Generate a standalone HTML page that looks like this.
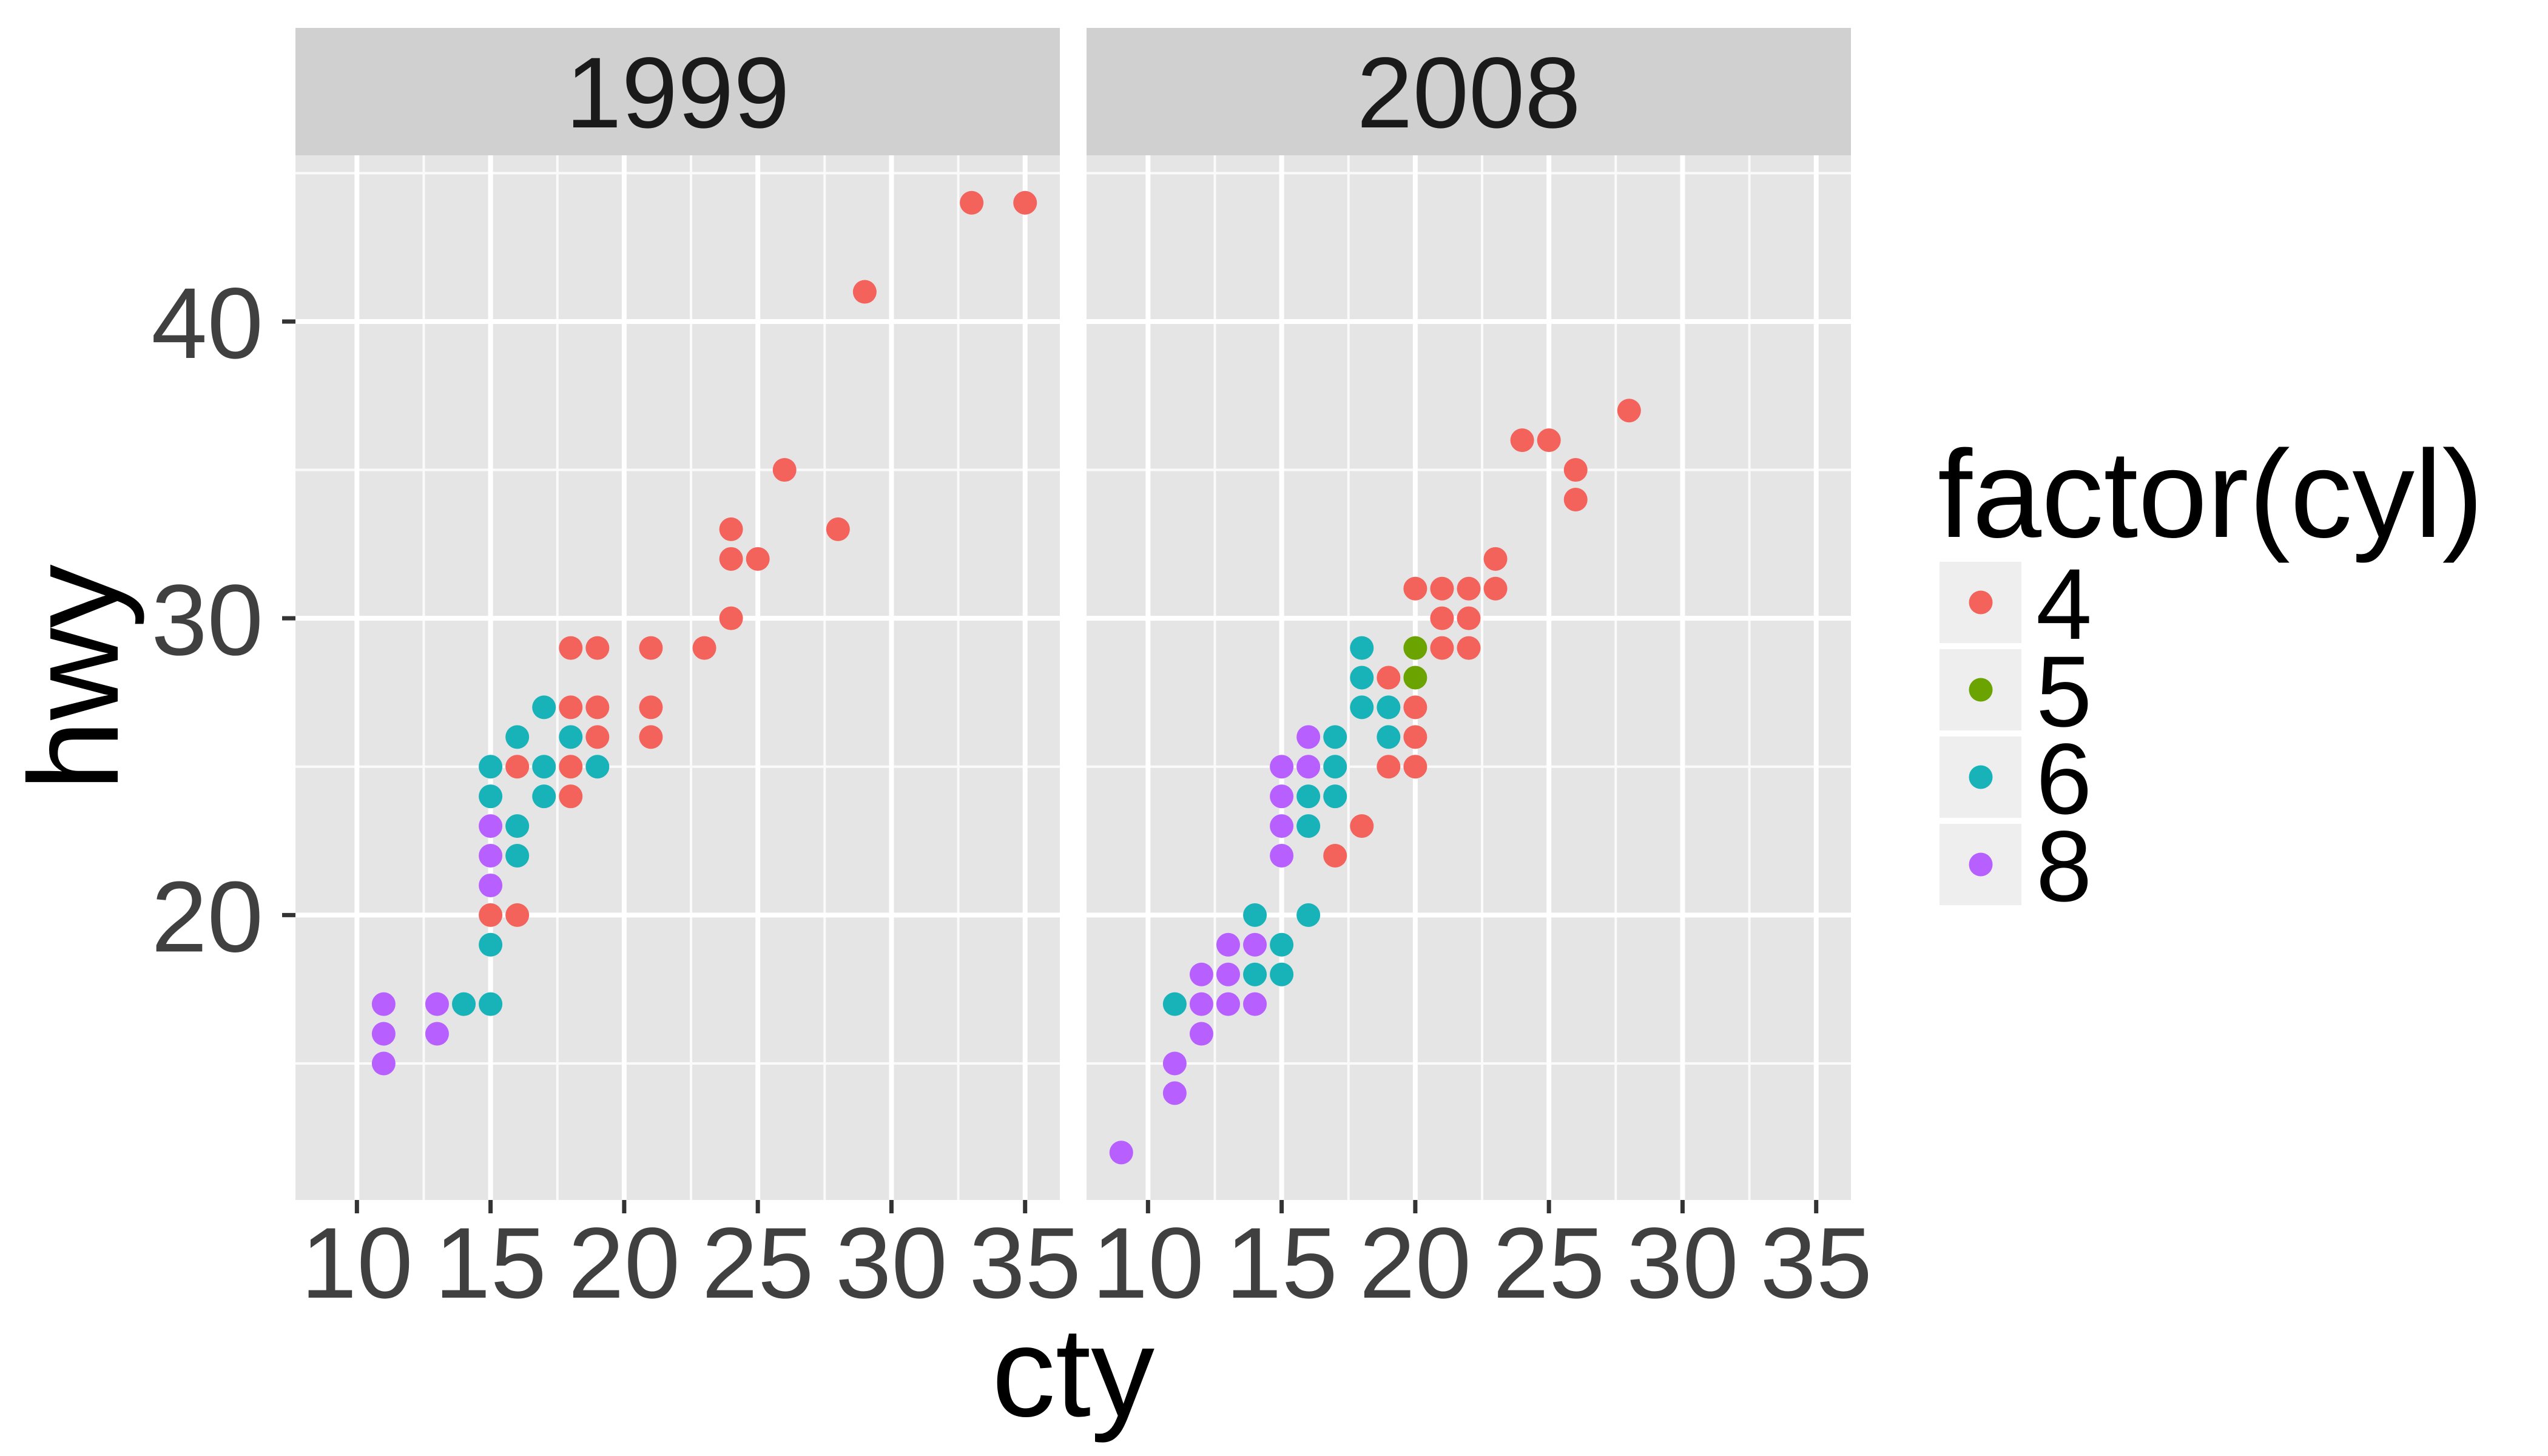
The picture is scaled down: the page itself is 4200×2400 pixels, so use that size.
<!DOCTYPE html>
<html><head><meta charset="utf-8"><style>
html,body{margin:0;padding:0;background:#fff;}
svg{display:block;font-family:"Liberation Sans",Arial,sans-serif;}
</style></head><body>
<svg id="chart" xmlns="http://www.w3.org/2000/svg" width="4200" height="2400" viewBox="0 0 4200 2400">
<rect width="4200" height="2400" fill="#fff"/>
<g id="panels"></g>
<text x="1769" y="2334" font-size="210" text-anchor="middle" fill="#000">cty</text>
<text transform="translate(194,1117) rotate(-90)" font-size="210" text-anchor="middle" fill="#000">hwy</text>
<g id="legend">
<text x="3194" y="885" font-size="205" fill="#000">factor(cyl)</text>
</g>
</svg>
<script>
const years = ["1999", "2008"];
const cylLevels = ["4", "5", "6", "8"];
const cylColors = ["#F3625B", "#6BA400", "#17B3B8", "#B760FF"];
const xTicks = [10, 15, 20, 25, 30, 35];
const xMinor = [12.5, 17.5, 22.5, 27.5, 32.5];
const yTicks = [20, 30, 40];
const yMinor = [15, 25, 35, 45];
// 1999 panel
const cty1999 = [33,35,29,26,24,28,24,25,24,23,18,19,21,18,19,21,19,21,16,18,18,15,16, 17,16,18,15,17,19,15,17,16,16,15,14,15, 15,15,15,11,13,11,13,11];
const hwy1999 = [44,44,41,35,33,33,32,32,30,29,29,29,29,27,27,27,26,26,25,25,24,20,20, 27,26,26,25,25,25,24,24,23,22,19,17,17, 23,22,21,17,17,16,16,15];
const cyl1999 = ["4","4","4","4","4","4","4","4","4","4","4","4","4","4","4","4","4","4","4","4","4","4","4",
 "6","6","6","6","6","6","6","6","6","6","6","6","6", "8","8","8","8","8","8","8","8"];
// 2008 panel
const cty2008 = [28,24,25,26,26,23,20,21,22,23,21,22,21,22,19,20,20,19,20,18,17, 20,20,
 18,18,18,19,17,19,17,16,17,16,14,16,15,14,15,11, 16,15,16,15,15,15,13,14,12,13,12,13,14,12,11,11,9];
const hwy2008 = [37,36,36,35,34,32,31,31,31,31,30,30,29,29,28,27,26,25,25,23,22, 29,28,
 29,28,27,27,26,26,25,24,24,23,20,20,19,18,18,17, 26,25,25,24,23,22,19,19,18,18,17,17,17,16,15,14,12];
const cyl2008 = ["4","4","4","4","4","4","4","4","4","4","4","4","4","4","4","4","4","4","4","4","4","5","5",
 "6","6","6","6","6","6","6","6","6","6","6","6","6","6","6","6",
 "8","8","8","8","8","8","8","8","8","8","8","8","8","8","8","8","8"];
const panelCty = [cty1999, cty2008], panelHwy = [hwy1999, hwy2008], panelCyl = [cyl1999, cyl2008];

const NS = "http://www.w3.org/2000/svg";
const X0 = 7.7, X1 = 36.3, Y0 = 10.4, Y1 = 45.6;
const panelLeft = [487, 1791], PW = 1260, PT = 256, PB = 1978;
function xs(p, v){ return panelLeft[p] + (v - X0) / (X1 - X0) * PW; }
function ys(v){ return PB - (v - Y0) / (Y1 - Y0) * (PB - PT); }
function mk(tag, attrs, parent){ const e = document.createElementNS(NS, tag); for (const k in attrs) e.setAttribute(k, attrs[k]); parent.appendChild(e); return e; }

const root = document.getElementById("panels");
for (let p = 0; p < 2; p++) {
  const g = mk("g", {}, root);
  
  
  const strip = mk("rect", {x: panelLeft[p], y: 46, width: PW, height: 210, fill: "#D0D0D0"}, g);
  
  
  const st = mk("text", {x: panelLeft[p] + PW/2, y: 210, "font-size": 166, "text-anchor": "middle", fill: "#1A1A1A"}, g);
  st.textContent = years[p];
  
  
  const bg = mk("rect", {x: panelLeft[p], y: PT, width: PW, height: PB - PT, fill: "#E5E5E5"}, g);
  
  
  xMinor.forEach(v => { const l = mk("line", {x1: xs(p,v), x2: xs(p,v), y1: PT, y2: PB, stroke: "#FAFAFA", "stroke-width": 4}, g);
      });
  yMinor.forEach(v => { const l = mk("line", {x1: panelLeft[p], x2: panelLeft[p]+PW, y1: ys(v), y2: ys(v), stroke: "#FAFAFA", "stroke-width": 4}, g);
      });
  xTicks.forEach(v => { const l = mk("line", {x1: xs(p,v), x2: xs(p,v), y1: PT, y2: PB, stroke: "#fff", "stroke-width": 8}, g);
     
    const t = mk("line", {x1: xs(p,v), x2: xs(p,v), y1: PB, y2: PB + 22, stroke: "#333", "stroke-width": 7}, g);
     
    const tl = mk("text", {x: xs(p,v), y: 2139, "font-size": 166, "text-anchor": "middle", fill: "#404040"}, g);
    tl.textContent = v;
      });
  yTicks.forEach(v => { const l = mk("line", {x1: panelLeft[p], x2: panelLeft[p]+PW, y1: ys(v), y2: ys(v), stroke: "#fff", "stroke-width": 8}, g);
      });
  const cx = panelCty[p], cy = panelHwy[p], cc = panelCyl[p];
  for (let i = 0; i < cx.length; i++) {
    const c = mk("circle", {cx: xs(p, cx[i]), cy: ys(cy[i]), r: 19.5, fill: cylColors[cylLevels.indexOf(cc[i])]}, g);
    
    
  }
}
yTicks.forEach(v => {
  const t = mk("line", {x1: 465, x2: 487, y1: ys(v), y2: ys(v), stroke: "#333", "stroke-width": 7}, root);
   
  const tl = mk("text", {x: 434, y: ys(v) + 60, "font-size": 166, "text-anchor": "end", fill: "#404040"}, root);
  tl.textContent = v;
   
});
const leg = document.getElementById("legend");
cylLevels.forEach((lv, i) => {
  const k = mk("rect", {x: 3197, y: 926 + i*144, width: 135, height: 134, fill: "#EEEEEE"}, leg);
   
  const d = mk("circle", {cx: 3265, cy: 993 + i*144, r: 19.5, fill: cylColors[i]}, leg);
   
  const t = mk("text", {x: 3356, y: 1053 + i*144, "font-size": 166, fill: "#000"}, leg);
  t.textContent = lv;
   
});
</script>
</body></html>
